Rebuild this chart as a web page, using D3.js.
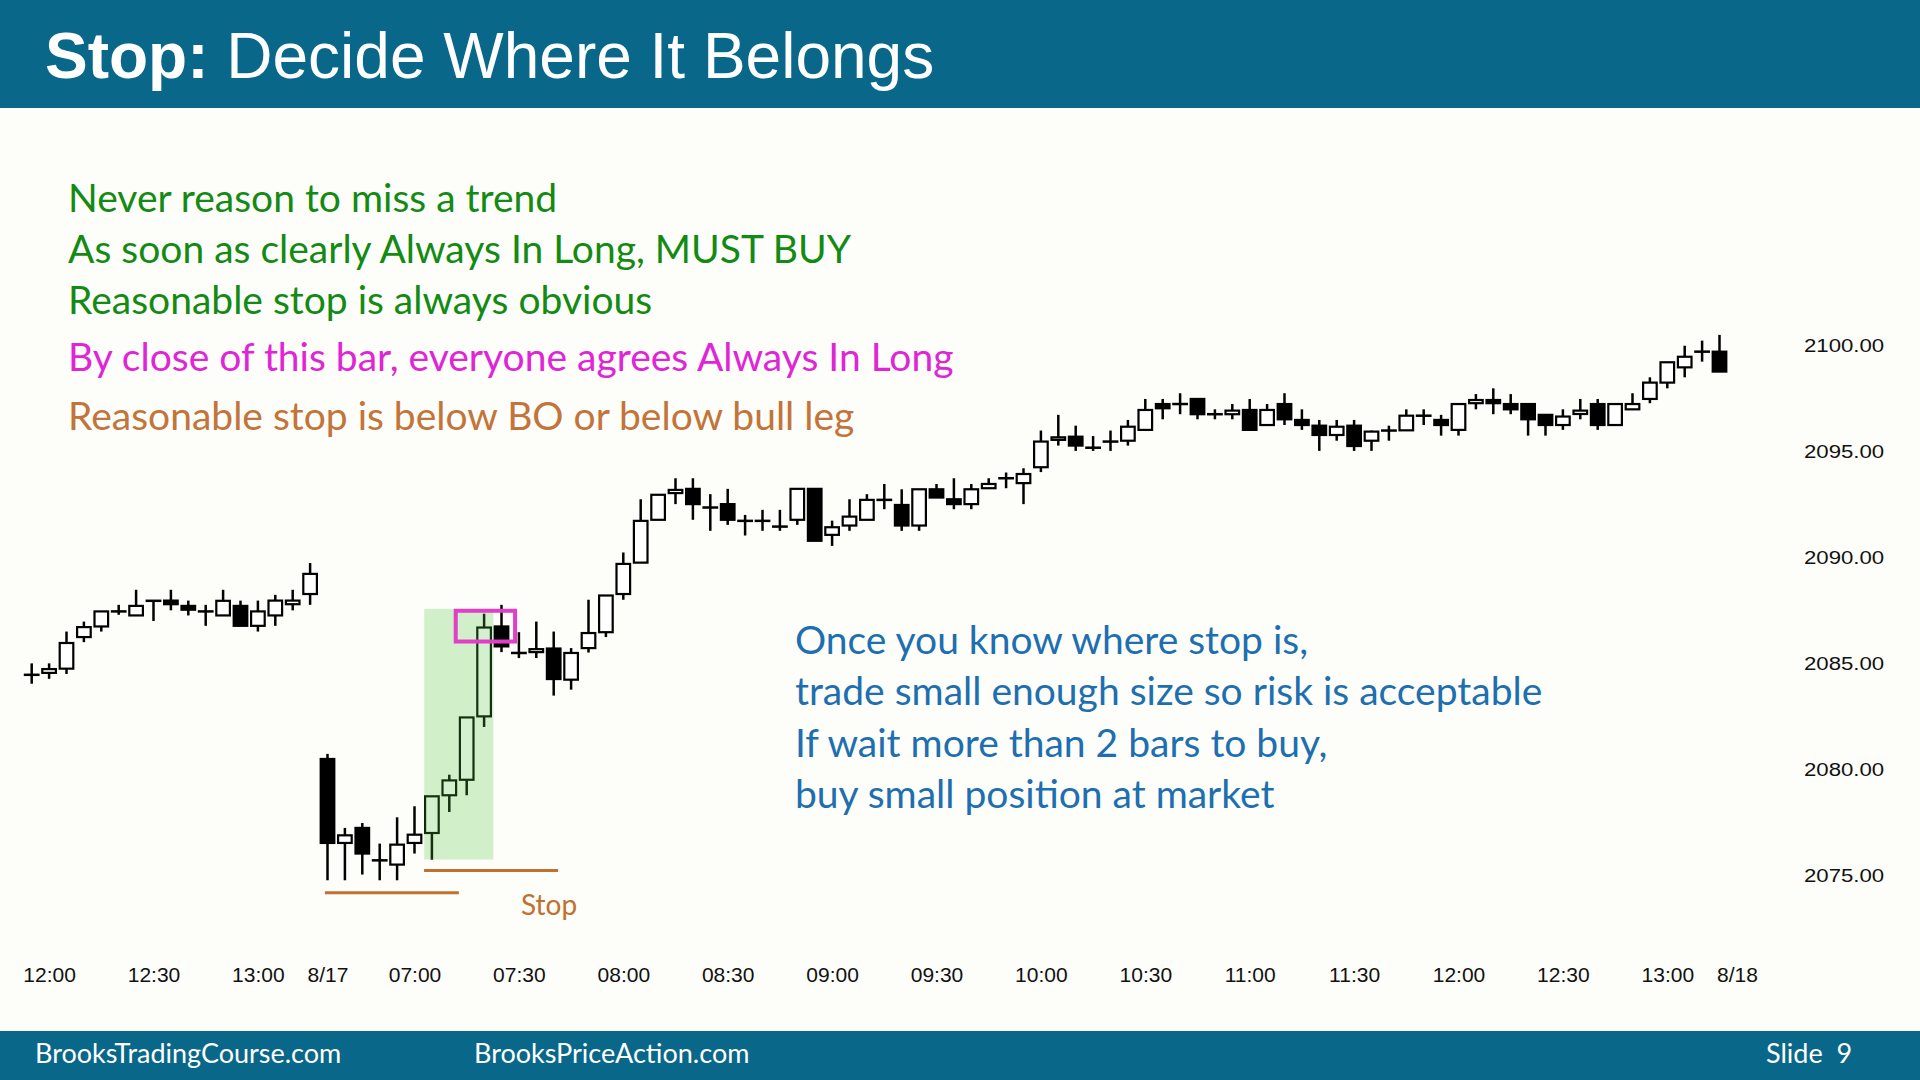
<!DOCTYPE html>
<html>
<head>
<meta charset="utf-8">
<script src="https://cdn.jsdelivr.net/npm/d3@7"></script>
<style>
  html, body { margin: 0; padding: 0; background: #fdfdf9; overflow: hidden; }
  .price-axis text { font-family: "Liberation Sans", Arial, sans-serif; font-size: 18.5px; fill: #111; }
  .time-axis text { font-family: "Liberation Sans", Arial, sans-serif; font-size: 21px; fill: #111; }
  .note { font-family: Lato, "Open Sans", sans-serif; font-size: 39px; }
</style>
</head>
<body>
<script>

// 5 minute bars, 8/14 afternoon then 8/17 session
const opens = [
    2084.46, 2084.55, 2084.75, 2086.24, 2086.74, 2087.45, 2087.26, 2087.95, 2087.96, 2087.71,
    2087.45, 2087.26, 2087.71, 2086.77, 2087.26, 2087.79, 2088.27,
    2080.49, 2076.53, 2077.24, 2075.71, 2075.51, 2076.53, 2077.00, 2078.78, 2079.51,
    2082.50, 2086.74, 2085.49, 2085.53, 2085.70, 2084.23, 2085.72, 2086.47, 2088.27, 2089.75,
    2091.77, 2093.03, 2093.23, 2092.35, 2092.51, 2091.72, 2091.72, 2091.45, 2091.77, 2093.23,
    2091.06, 2091.50, 2091.77, 2092.71, 2092.47, 2091.50, 2093.21, 2092.74, 2092.51, 2093.26,
    2093.73, 2093.50, 2094.25, 2095.54, 2095.69, 2095.17, 2095.46, 2095.50, 2096.01, 2097.23,
    2097.23, 2097.47, 2096.75, 2096.75, 2096.95, 2096.24, 2097.23, 2096.48, 2096.21, 2095.77,
    2096.21, 2095.50, 2095.98, 2095.99, 2096.68, 2096.48, 2096.01, 2097.27, 2097.42, 2097.23,
    2097.23, 2096.72, 2096.24, 2096.76, 2097.23, 2096.24, 2096.98, 2097.47, 2098.24, 2098.96,
    2099.70, 2099.70
];
const highs = [
    2085.00, 2085.00, 2086.50, 2086.97, 2087.45, 2087.76, 2088.47, 2087.95, 2088.47, 2087.96,
    2087.76, 2088.47, 2087.96, 2087.96, 2088.23, 2088.47, 2089.73,
    2080.73, 2077.24, 2077.47, 2076.50, 2077.74, 2078.26, 2078.73, 2079.75, 2082.45,
    2087.34, 2087.76, 2086.47, 2086.97, 2086.50, 2085.72, 2088.00, 2088.20, 2090.23, 2092.74,
    2092.95, 2093.73, 2093.73, 2092.98, 2093.23, 2092.00, 2092.24, 2092.24, 2093.23, 2093.23,
    2091.73, 2092.74, 2092.98, 2093.46, 2093.21, 2093.21, 2093.46, 2093.73, 2093.46, 2093.73,
    2094.00, 2094.20, 2095.98, 2096.72, 2096.21, 2095.72, 2095.98, 2096.48, 2097.47, 2097.47,
    2097.74, 2097.47, 2096.98, 2097.23, 2097.47, 2097.23, 2097.74, 2096.98, 2096.48, 2096.48,
    2096.48, 2095.98, 2096.21, 2096.98, 2096.98, 2096.72, 2097.23, 2097.70, 2097.97, 2097.70,
    2097.23, 2096.72, 2096.98, 2097.47, 2097.47, 2097.23, 2097.74, 2098.49, 2099.20, 2099.98,
    2100.22, 2100.49
];
const lows = [
    2084.04, 2084.27, 2084.50, 2086.00, 2086.50, 2087.29, 2087.26, 2087.00, 2087.50, 2087.26,
    2086.77, 2087.26, 2086.77, 2086.50, 2086.77, 2087.50, 2087.76,
    2074.77, 2074.77, 2075.04, 2074.77, 2074.77, 2076.03, 2075.74, 2077.99, 2078.78,
    2082.00, 2085.53, 2085.25, 2085.25, 2083.48, 2083.76, 2085.51, 2086.24, 2088.00, 2089.75,
    2091.77, 2092.51, 2091.77, 2091.25, 2091.53, 2091.03, 2091.25, 2091.25, 2091.53, 2090.78,
    2090.54, 2091.25, 2091.77, 2092.27, 2091.25, 2091.25, 2092.82, 2092.27, 2092.27, 2093.26,
    2093.26, 2092.51, 2094.02, 2095.27, 2095.02, 2095.02, 2095.02, 2095.27, 2096.01, 2096.51,
    2096.75, 2096.51, 2096.51, 2096.51, 2096.01, 2096.24, 2096.24, 2096.01, 2095.02, 2095.50,
    2095.02, 2095.02, 2095.50, 2095.99, 2096.24, 2095.74, 2095.74, 2096.98, 2096.75, 2096.75,
    2095.74, 2095.74, 2096.01, 2096.51, 2096.01, 2096.24, 2096.98, 2097.27, 2097.97, 2098.49,
    2099.23, 2098.76
];
const closes = [
    2084.46, 2084.73, 2085.96, 2086.71, 2087.45, 2087.45, 2087.71, 2087.95, 2087.79, 2087.53,
    2087.45, 2087.95, 2086.77, 2087.45, 2087.96, 2087.96, 2089.22,
    2076.53, 2076.89, 2076.03, 2075.71, 2076.45, 2076.92, 2078.73, 2079.48, 2082.45,
    2086.69, 2085.80, 2085.49, 2085.67, 2084.26, 2085.49, 2086.43, 2088.20, 2089.69, 2091.72,
    2092.95, 2093.18, 2092.51, 2092.35, 2091.77, 2091.72, 2091.72, 2091.45, 2093.23, 2090.78,
    2091.42, 2091.92, 2092.71, 2092.71, 2091.50, 2093.21, 2092.82, 2092.51, 2093.21, 2093.46,
    2093.73, 2093.93, 2095.46, 2095.66, 2095.27, 2095.17, 2095.46, 2096.16, 2096.95, 2097.03,
    2097.23, 2096.75, 2096.75, 2096.92, 2096.01, 2096.95, 2096.51, 2096.24, 2095.77, 2096.16,
    2095.25, 2095.93, 2095.98, 2096.68, 2096.68, 2096.24, 2097.23, 2097.42, 2097.27, 2096.98,
    2096.51, 2096.24, 2096.64, 2096.92, 2096.24, 2097.23, 2097.23, 2098.24, 2099.20, 2099.46,
    2099.70, 2098.76
];

const tickBars = [1, 7, 13, 17, 22, 28, 34, 40, 46, 52, 58, 64, 70, 76, 82, 88, 94, 98];
const tickLabels = ['12:00', '12:30', '13:00', '8/17', '07:00', '07:30', '08:00', '08:30', '09:00',
    '09:30', '10:00', '10:30', '11:00', '11:30', '12:00', '12:30', '13:00', '8/18'];
const priceTicks = [2075, 2080, 2085, 2090, 2095, 2100];

const greenLines = ['Never reason to miss a trend', 'As soon as clearly Always In Long, MUST BUY',
    'Reasonable stop is always obvious'];
const magentaLine = 'By close of this bar, everyone agrees Always In Long';
const brownLine = 'Reasonable stop is below BO or below bull leg';
const blueLines = ['Once you know where stop is,', 'trade small enough size so risk is acceptable',
    'If wait more than 2 bars to buy,', 'buy small position at market'];

// annotations in bar index / price units
const breakoutZone = { from: 22.56, to: 26.53, top: 2087.57, bottom: 2075.75 };
const signalBox = { from: 24.37, to: 27.78, top: 2087.48, bottom: 2086.03 };
const stopLines = [
    { from: 16.85, to: 24.55, price: 2074.18 },
    { from: 22.55, to: 30.25, price: 2075.23 }
];

const W = 1920, H = 1080;
const teal = '#09678a';

const svg = d3.select('body')
    .append('svg')
    .attr('width', W)
    .attr('height', H);

svg.append('rect').attr('width', W).attr('height', H).attr('fill', '#fdfdf9');

const x = d3.scaleLinear().domain([0, 97]).range([31.7, 31.7 + 97 * 17.4]);
const y = d3.scaleLinear().domain([2075, 2100]).range([875.4, 345.3]);

const bars = opens.map((o, i) => ({ i: i, o: o, h: highs[i], l: lows[i], c: closes[i] }));

// header
svg.append('rect').attr('width', W).attr('height', 108).attr('fill', teal);
const title = svg.append('text')
    .attr('x', 45).attr('y', 78)
    .attr('fill', '#fff')
    .style('font-family', '"Liberation Sans", Arial, sans-serif')
    .style('font-size', '64px');
title.append('tspan').attr('font-weight', 'bold').text('Stop:');
title.append('tspan').text(' Decide Where It Belongs');

// footer
svg.append('rect').attr('y', 1031).attr('width', W).attr('height', 49).attr('fill', teal);
const foot = svg.append('g')
    .style('font-family', 'Lato, sans-serif')
    .style('font-size', '27px')
    .attr('fill', '#fff');
foot.append('text').attr('x', 35).attr('y', 1063).text('BrooksTradingCourse.com');
foot.append('text').attr('x', 474).attr('y', 1063).text('BrooksPriceAction.com');
foot.append('text').attr('x', 1766).attr('y', 1063).attr('xml:space', 'preserve').text('Slide  9');

// axes
const priceAxis = svg.append('g')
    .attr('class', 'price-axis')
    .attr('transform', 'translate(1804,0)')
    .call(d3.axisRight(y).tickValues(priceTicks).tickSize(0).tickPadding(0).tickFormat(d3.format('.2f')));
priceAxis.select('.domain').remove();
// the slide stretches these labels sideways
priceAxis.selectAll('text').attr('transform', 'scale(1.2,1)');

const timeAxis = svg.append('g')
    .attr('class', 'time-axis')
    .attr('transform', 'translate(0,967)')
    .call(d3.axisBottom(x).tickValues(tickBars).tickSize(0).tickPadding(0)
        .tickFormat((d, i) => tickLabels[i]));
timeAxis.select('.domain').remove();

// candles
const plot_g = svg.append('g');
const bodyW = 13.6;

plot_g.selectAll('.wick')
    .data(bars).enter().append('line')
    .attr('class', 'wick')
    .attr('x1', d => x(d.i)).attr('x2', d => x(d.i))
    .attr('y1', d => y(d.h)).attr('y2', d => y(d.l))
    .attr('stroke', '#000').attr('stroke-width', 2.5);

const flat = d => Math.abs(d.o - d.c) < 0.08;

plot_g.selectAll('.body')
    .data(bars.filter(d => !flat(d))).enter().append('rect')
    .attr('class', 'body')
    .attr('x', d => x(d.i) - bodyW / 2)
    .attr('width', bodyW)
    .attr('y', d => y(Math.max(d.o, d.c)))
    .attr('height', d => y(Math.min(d.o, d.c)) - y(Math.max(d.o, d.c)))
    .attr('fill', d => d.c > d.o ? '#fff' : '#000')
    .attr('stroke', '#000').attr('stroke-width', 2.2);

plot_g.selectAll('.doji')
    .data(bars.filter(flat)).enter().append('line')
    .attr('class', 'doji')
    .attr('x1', d => x(d.i) - bodyW / 2 - 1.1)
    .attr('x2', d => x(d.i) + bodyW / 2 + 1.1)
    .attr('y1', d => y(d.c)).attr('y2', d => y(d.c))
    .attr('stroke', '#000').attr('stroke-width', 2.5);

// breakout zone, signal bar box, stops
svg.append('rect')
    .attr('x', x(breakoutZone.from)).attr('width', x(breakoutZone.to) - x(breakoutZone.from))
    .attr('y', y(breakoutZone.top)).attr('height', y(breakoutZone.bottom) - y(breakoutZone.top))
    .attr('fill', 'rgb(80,200,60)').attr('fill-opacity', 0.25);

svg.append('rect')
    .attr('x', x(signalBox.from)).attr('width', x(signalBox.to) - x(signalBox.from))
    .attr('y', y(signalBox.top)).attr('height', y(signalBox.bottom) - y(signalBox.top))
    .attr('fill', 'none').attr('stroke', '#e23fc8').attr('stroke-width', 4);

svg.selectAll('.stop')
    .data(stopLines).enter().append('line')
    .attr('class', 'stop')
    .attr('x1', d => x(d.from)).attr('x2', d => x(d.to))
    .attr('y1', d => y(d.price)).attr('y2', d => y(d.price))
    .attr('stroke', '#c0702f').attr('stroke-width', 3);

svg.append('text')
    .attr('x', 521).attr('y', 915)
    .attr('fill', '#c0702f')
    .style('font-family', 'Lato, sans-serif')
    .style('font-size', '28px')
    .text('Stop');

// commentary
svg.selectAll('.green')
    .data(greenLines).enter().append('text')
    .attr('class', 'note green')
    .attr('x', 68).attr('y', (d, i) => 212 + i * 51)
    .attr('fill', '#138a13')
    .text(d => d);

svg.append('text').attr('class', 'note')
    .attr('x', 68).attr('y', 371).attr('fill', '#df25d6').text(magentaLine);

svg.append('text').attr('class', 'note')
    .attr('x', 68).attr('y', 430).attr('fill', '#c2743a').text(brownLine);

svg.selectAll('.blue')
    .data(blueLines).enter().append('text')
    .attr('class', 'note blue')
    .attr('x', 795).attr('y', (d, i) => 654 + i * 51.4)
    .attr('fill', '#1d6fb0')
    .text(d => d);

</script>
</body>
</html>
